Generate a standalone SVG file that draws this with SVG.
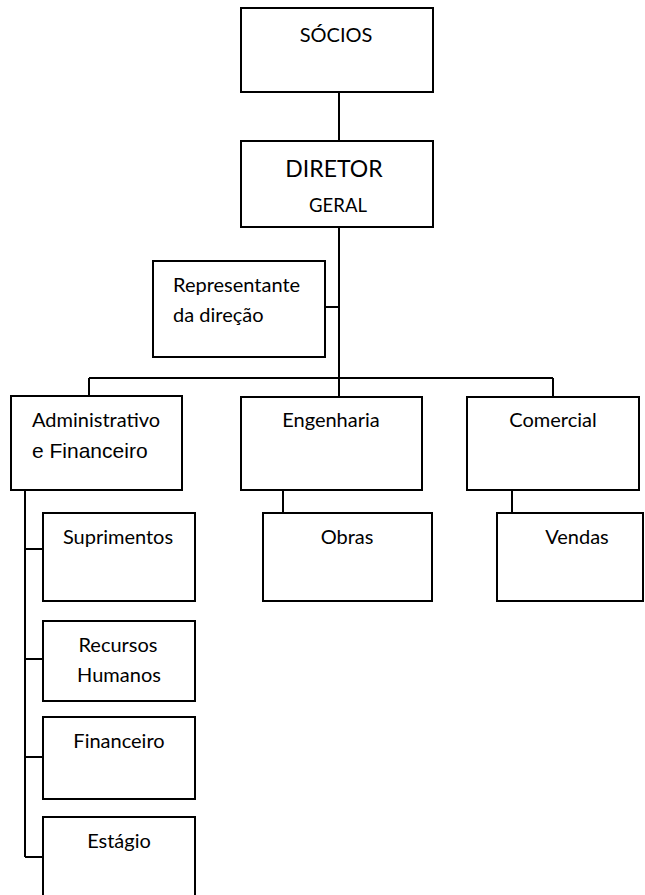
<svg xmlns="http://www.w3.org/2000/svg" width="645" height="895" viewBox="0 0 645 895">
<style>
.box{fill:#fff;stroke:#000;stroke-width:2}
.ln{fill:none;stroke:#000;stroke-width:2}
text{font-family:Lato,"Open Sans","Liberation Sans",sans-serif;font-size:20px;fill:#000}
.c{text-anchor:middle}
.arial{font-family:"Liberation Sans",Arial,sans-serif}
</style>
<rect width="645" height="895" fill="#fff"/>
<g id="connectors">
<path class="ln" d="M339 92V141"/>
<path class="ln" d="M339 227V397"/>
<path class="ln" d="M325 307H339"/>
<path class="ln" d="M89 378H553"/>
<path class="ln" d="M89 378V396"/>
<path class="ln" d="M553 378V397"/>
<path class="ln" d="M25 490V857"/>
<path class="ln" d="M25 549H43"/>
<path class="ln" d="M25 659H43"/>
<path class="ln" d="M25 757H43"/>
<path class="ln" d="M25 857H43"/>
<path class="ln" d="M283 490V513"/>
<path class="ln" d="M512 490V513"/>
</g>
<g id="socios"><rect class="box" x="241" y="8" width="192" height="84"/><text class="c" x="336" y="42">SÓCIOS</text></g>
<g id="diretor"><rect class="box" x="241" y="141" width="192" height="86"/><text class="c" x="334" y="177" style="font-size:23px">DIRETOR</text><text class="c" x="338" y="212" style="font-size:18.5px">GERAL</text></g>
<g id="representante"><rect class="box" x="153" y="261" width="172" height="96"/><text x="173" y="292">Representante</text><text x="173" y="322">da direção</text></g>
<g id="administrativo"><rect class="box" x="11" y="396" width="171" height="94"/><text x="32" y="427">Administrativo</text><text class="arial" x="32" y="458" style="font-size:21px">e Financeiro</text></g>
<g id="engenharia"><rect class="box" x="241" y="397" width="181" height="93"/><text class="c" x="331" y="427">Engenharia</text></g>
<g id="comercial"><rect class="box" x="467" y="397" width="172" height="93"/><text class="c" x="553" y="427">Comercial</text></g>
<g id="suprimentos"><rect class="box" x="43" y="513" width="152" height="88"/><text class="c" x="118" y="544">Suprimentos</text></g>
<g id="obras"><rect class="box" x="263" y="513" width="169" height="88"/><text class="c" x="347" y="544">Obras</text></g>
<g id="vendas"><rect class="box" x="497" y="513" width="146" height="88"/><text class="c" x="577" y="544">Vendas</text></g>
<g id="recursos"><rect class="box" x="43" y="621" width="152" height="80"/><text class="c" x="118" y="652">Recursos</text><text class="c" x="119" y="682">Humanos</text></g>
<g id="financeiro"><rect class="box" x="43" y="717" width="152" height="82"/><text class="c" x="119" y="748">Financeiro</text></g>
<g id="estagio"><rect class="box" x="43" y="817" width="152" height="90"/><text class="c" x="119" y="848">Estágio</text></g>
</svg>
